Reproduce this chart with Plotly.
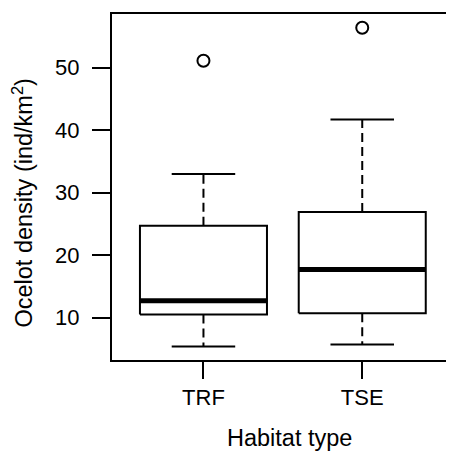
import plotly.graph_objects as go

# ---- data ----
categories = ["TRF", "TSE"]
lower_whisker = [5.4, 5.7]
q1 = [10.5, 10.7]
median = [12.7, 17.7]
q3 = [24.7, 26.9]
upper_whisker = [33.0, 41.7]
outliers = [[51.1], [56.4]]
y_ticks = [10, 20, 30, 40, 50]

positions = [1, 2]
BOX_HALF = 0.4
CAP_HALF = 0.2
FONT = "Liberation Sans, Arial, sans-serif"
FS_TICK = 22
FS_TITLE = 23.5

fig = go.Figure()

for i, p in enumerate(positions):
    # dashed whiskers (drawn from the box outwards)
    fig.add_trace(go.Scatter(x=[p, p], y=[q3[i], upper_whisker[i]], mode="lines",
                             line=dict(color="black", width=2, dash="9px,5px"),
                             hoverinfo="skip", showlegend=False))
    fig.add_trace(go.Scatter(x=[p, p], y=[q1[i], lower_whisker[i]], mode="lines",
                             line=dict(color="black", width=2, dash="9px,5px"),
                             hoverinfo="skip", showlegend=False))
    # caps
    for w in (upper_whisker[i], lower_whisker[i]):
        fig.add_trace(go.Scatter(x=[p - CAP_HALF, p + CAP_HALF], y=[w, w], mode="lines",
                                 line=dict(color="black", width=2),
                                 hoverinfo="skip", showlegend=False))
    # box
    fig.add_trace(go.Scatter(x=[p - BOX_HALF, p + BOX_HALF, p + BOX_HALF, p - BOX_HALF, p - BOX_HALF],
                             y=[q1[i], q1[i], q3[i], q3[i], q1[i]], mode="lines",
                             fill="toself", fillcolor="white",
                             line=dict(color="black", width=2),
                             hoverinfo="skip", showlegend=False))
    # median
    fig.add_trace(go.Scatter(x=[p - BOX_HALF, p + BOX_HALF], y=[median[i], median[i]], mode="lines",
                             line=dict(color="black", width=5),
                             hoverinfo="skip", showlegend=False))
    # outliers
    fig.add_trace(go.Scatter(x=[p] * len(outliers[i]), y=outliers[i], mode="markers",
                             marker=dict(symbol="circle-open", size=12, color="black",
                                         line=dict(width=2, color="black")),
                             hoverinfo="skip", showlegend=False))

# page body has an 8px margin, so the figure is 8px smaller and margins shifted
fig.update_layout(
    width=446, height=443,
    margin=dict(l=104, r=1, t=6, b=91),
    paper_bgcolor="white", plot_bgcolor="white",
    font=dict(family=FONT, size=FS_TICK, color="black"),
    xaxis=dict(range=[0.424, 2.559], tickmode="array", tickvals=positions, ticktext=categories,
               showgrid=False, zeroline=False, showline=True, linecolor="black", linewidth=2,
               mirror=True, ticks="outside", ticklen=17, tickwidth=2, tickcolor="black",
               ticklabelstandoff=0),
    yaxis=dict(range=[3.23, 58.59], tickmode="array", tickvals=y_ticks,
               showgrid=False, zeroline=False, showline=True, linecolor="black", linewidth=2,
               mirror=True, ticks="outside", ticklen=18, tickwidth=2, tickcolor="black",
               ticklabelstandoff=8),
    annotations=[
        dict(text="Habitat type", xref="paper", yref="paper", x=0.5235, y=-0.2254,
             xanchor="center", yanchor="middle", showarrow=False, font=dict(size=FS_TITLE)),
        dict(text="Ocelot density (ind/km<sup>2</sup>)", xref="paper", yref="paper",
             x=-0.2654, y=0.4523, xanchor="center", yanchor="middle", textangle=-90,
             showarrow=False, font=dict(size=FS_TITLE)),
    ],
)

fig.write_html("out.html")
